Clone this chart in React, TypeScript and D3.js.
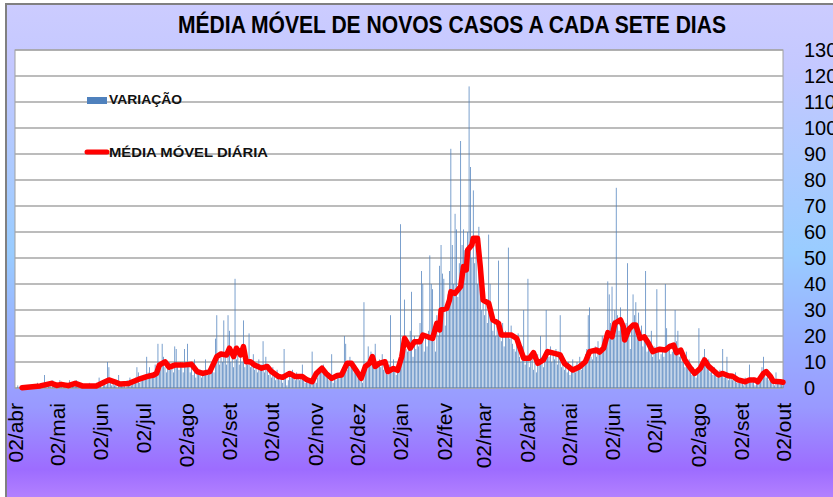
import React from 'react';
import * as d3 from 'd3';

const START = new Date(2020, 3, 2);
const END = new Date(2021, 9, 2);

const titleText = 'MÉDIA MÓVEL DE NOVOS CASOS A CADA SETE DIAS';
const legendBars = 'VARIAÇÃO';
const legendLine = 'MÉDIA MÓVEL DIÁRIA';

const tickLabels = [
  '02/abr', '02/mai', '02/jun', '02/jul', '02/ago', '02/set', '02/out', '02/nov', '02/dez',
  '02/jan', '02/fev', '02/mar', '02/abr', '02/mai', '02/jun', '02/jul', '02/ago', '02/set', '02/out',
];
const tickDates = [
  new Date(2020, 3, 2), new Date(2020, 4, 2), new Date(2020, 5, 2), new Date(2020, 6, 2),
  new Date(2020, 7, 2), new Date(2020, 8, 2), new Date(2020, 9, 2), new Date(2020, 10, 2),
  new Date(2020, 11, 2), new Date(2021, 0, 2), new Date(2021, 1, 2), new Date(2021, 2, 2),
  new Date(2021, 3, 2), new Date(2021, 4, 2), new Date(2021, 5, 2), new Date(2021, 6, 2),
  new Date(2021, 7, 2), new Date(2021, 8, 2), new Date(2021, 9, 2),
];

const yTicks = [0, 10, 20, 30, 40, 50, 60, 70, 80, 90, 100, 110, 120, 130];

// daily new cases, one value per day from 02/abr/2020
const dailyCases = [
  0, 0, 1, 0, 0, 0, 0,
  0, 1, 0, 0, 1, 0, 1,
  1, 0, 2, 1, 0, 1, 0,
  5, 1, 0, 2, 1, 0, 3,
  1, 2, 0, 1, 3, 1, 0,
  1, 0, 2, 1, 3, 0, 1,
  1, 2, 3, 1, 0, 2, 1,
  0, 1, 1, 0, 2, 1, 0,
  1, 0, 2, 1, 4, 1, 0,
  2, 3, 1, 10, 8, 2, 1,
  2, 1, 3, 0, 5, 2, 1,
  1, 2, 0, 3, 2, 4, 1,
  2, 3, 4, 8, 6, 2, 3,
  3, 5, 4, 12, 6, 8, 4,
  5, 6, 9, 7, 17, 8, 10,
  17, 12, 8, 6, 9, 10, 7,
  8, 6, 16, 15, 9, 7, 10,
  8, 6, 15, 10, 17, 9, 6,
  9, 5, 11, 4, 6, 5, 7,
  4, 6, 5, 11, 7, 5, 6,
  8, 10, 6, 19, 28, 12, 9,
  14, 10, 26, 12, 9, 28, 22,
  10, 12, 8, 42, 11, 14, 9,
  12, 10, 26, 8, 11, 9, 21,
  8, 10, 13, 7, 9, 6, 11,
  7, 9, 18, 6, 12, 8, 5,
  6, 4, 8, 5, 3, 7, 4,
  3, 4, 2, 15, 4, 1, 3,
  6, 4, 7, 5, 3, 6, 4,
  3, 5, 9, 4, 2, 4, 3,
  2, 3, 14, 5, 3, 2, 4,
  6, 8, 7, 9, 5, 6, 4,
  3, 5, 13, 2, 4, 3, 5,
  4, 6, 5, 8, 20, 17, 7,
  9, 12, 8, 10, 6, 7, 5,
  4, 3, 5, 2, 33, 6, 8,
  16, 9, 14, 12, 8, 17, 10,
  9, 11, 8, 13, 7, 10, 6,
  5, 9, 28, 6, 11, 7, 5,
  8, 10, 63, 12, 20, 34, 15,
  14, 18, 22, 37, 12, 20, 15,
  18, 16, 25, 45, 40, 14, 20,
  16, 22, 51, 40, 38, 18, 14,
  28, 20, 47, 55, 44, 42, 24,
  30, 36, 45, 92, 55, 40, 67,
  61, 35, 48, 95, 55, 61, 53,
  46, 60, 116, 85, 50, 76, 48,
  55, 40, 62, 38, 30, 35, 28,
  32, 25, 59, 40, 28, 22, 26,
  20, 24, 49, 22, 18, 25, 16,
  22, 20, 54, 19, 24, 17, 15,
  14, 18, 21, 12, 10, 16, 30,
  9, 12, 42, 8, 11, 14, 7,
  10, 6, 13, 9, 20, 12, 8,
  11, 30, 14, 12, 16, 10, 13,
  11, 15, 9, 14, 28, 8, 12,
  7, 9, 6, 10, 5, 8, 11,
  8, 6, 10, 9, 12, 7, 8,
  10, 13, 15, 28, 31, 12, 11,
  14, 16, 12, 18, 15, 13, 20,
  18, 15, 22, 41, 36, 25, 39,
  26, 30, 77, 28, 22, 31, 24,
  18, 20, 25, 48, 22, 15, 24,
  36, 28, 33, 20, 29, 18, 24,
  16, 20, 45, 14, 18, 15, 22,
  12, 16, 14, 38, 15, 11, 13,
  14, 12, 40, 23, 15, 17, 13,
  14, 16, 30, 18, 22, 12, 15,
  10, 12, 8, 14, 9, 11, 7,
  5, 8, 6, 4, 7, 23, 9,
  10, 12, 15, 9, 8, 11, 6,
  7, 5, 8, 6, 4, 5, 7,
  6, 15, 4, 5, 12, 3, 4,
  5, 3, 4, 6, 2, 4, 3,
  2, 3, 1, 4, 2, 3, 9,
  3, 2, 4, 1, 3, 2, 4,
  5, 8, 12, 6, 4, 7, 3,
  4, 2, 3, 1, 6, 2, 3,
  2, 3, 1,
];

// moving average, read at day offsets from 02/abr/2020
const maDays = [
  5, 18, 26, 30, 33, 38, 43, 48, 58, 62, 67, 71, 75, 81, 84, 88, 94, 99, 101, 103,
  107, 110, 114, 120, 126, 130, 134, 139, 144, 147, 151, 153, 156, 158, 161, 163, 165, 168, 171, 176,
  180, 183, 188, 191, 196, 200, 205, 208, 212, 215, 219, 222, 226, 230, 233, 237, 240, 244, 247, 250,
  253, 255, 257, 260, 264, 266, 270, 273, 276, 278, 282, 285, 289, 291, 295, 298, 301, 303, 304, 308,
  310, 311, 314, 318, 320, 322, 323, 326, 327, 330, 332, 334, 338, 341, 345, 347, 351, 354, 358, 360,
  363, 367, 370, 373, 377, 380, 385, 389, 392, 398, 403, 407, 410, 415, 417, 420, 423, 426, 428, 432,
  434, 435, 438, 441, 443, 446, 449, 452, 455, 458, 460, 464, 467, 470, 472, 475, 478, 482, 485, 489,
  492, 495, 498, 502, 505, 509, 512, 516, 521, 524, 528, 530, 534, 536, 539, 541, 546, 548,
];
const maValues = [
  0.1, 0.8, 1.8, 1.0, 1.4, 0.9, 1.8, 0.8, 0.8, 1.8, 3.1, 2.4, 1.5, 1.7, 2.4, 3.3, 4.4, 5.0, 5.6, 8.8,
  10.1, 8.0, 8.8, 8.8, 9.1, 6.3, 5.6, 6.3, 12.1, 13.1, 12.7, 15.3, 12.1, 15.3, 12.7, 15.9, 10.1, 10.1, 8.8, 7.6,
  8.3, 6.3, 4.4, 4.1, 5.6, 4.4, 4.4, 3.3, 2.4, 5.6, 7.6, 5.6, 3.7, 4.8, 5.0, 9.5, 9.5, 6.3, 3.7, 8.3,
  9.5, 12.1, 8.3, 9.5, 10.1, 6.3, 7.5, 6.8, 12.1, 19.1, 15.3, 17.8, 17.8, 20.4, 19.6, 19.1, 24.9, 22.3, 30.0, 30.6,
  33.8, 37.0, 36.4, 39.0, 46.7, 45.4, 53.1, 55.0, 57.6, 57.6, 46.7, 33.8, 32.6, 26.2, 24.9, 20.4, 20.4, 20.4, 19.1, 15.9,
  11.4, 11.4, 13.6, 9.5, 10.8, 14.0, 13.3, 12.7, 9.5, 6.9, 8.2, 10.1, 14.0, 14.6, 13.8, 15.3, 21.3, 19.7, 24.9, 26.2,
  23.6, 18.5, 22.6, 24.2, 24.2, 19.1, 19.7, 17.2, 14.0, 14.6, 14.9, 14.6, 15.9, 16.5, 13.6, 14.6, 10.8, 7.6, 5.6, 7.6,
  10.8, 8.3, 6.9, 5.0, 5.6, 4.7, 4.5, 3.1, 2.4, 3.1, 3.1, 2.4, 5.6, 6.3, 4.5, 2.6, 2.4, 2.2,
];

const W = 833;
const H = 497;
const PL = 15;
const PR = 783;
const PT = 50;
const PB = 388;

export default function App() {
  const x = d3.scaleTime().domain([START, END]).range([PL, PR]);
  const y = d3.scaleLinear().domain([0, 130]).range([PB, PT]);

  const bars = dailyCases.map((v, i) => ({ date: d3.timeDay.offset(START, i), v }));
  const ma = maDays.map((d, i) => ({ date: d3.timeDay.offset(START, d), v: maValues[i] }));
  const line = d3
    .line<{ date: Date; v: number }>()
    .x((d) => x(d.date))
    .y((d) => y(d.v));

  const barW = 0.75;

  return (
    <svg
      width={W}
      height={H}
      style={{ position: 'absolute', left: 0, top: 0, background: '#ffffff' }}
      fontFamily="'Liberation Sans', Arial, sans-serif"
    >
      <defs>
        <linearGradient id="bg" x1="0" y1="0" x2="0" y2="1">
          <stop offset="0%" stopColor="#ccccff" />
          <stop offset="12%" stopColor="#c4c8ff" />
          <stop offset="48%" stopColor="#99ccff" />
          <stop offset="78%" stopColor="#9999ff" />
          <stop offset="90%" stopColor="#9d6cff" />
          <stop offset="100%" stopColor="#c592ff" />
        </linearGradient>
      </defs>
      <rect x={6} y={4} width={W + 20} height={H + 20} fill="url(#bg)" stroke="#808080" strokeWidth={2} />

      <text
        x={452}
        y={33}
        textAnchor="middle"
        fontWeight="bold"
        fontSize={24}
        textLength={548}
        lengthAdjust="spacingAndGlyphs"
        fill="#000"
      >
        {titleText}
      </text>

      <rect x={PL} y={PT} width={PR - PL} height={PB - PT} fill="#ffffff" stroke="#a0a0a0" strokeWidth={1} />

      {yTicks.map((t) => (
        <line key={'g' + t} x1={PL} x2={PR} y1={y(t)} y2={y(t)} stroke="#a6a6a6" strokeWidth={1.5} />
      ))}

      <g fill="#4f81bd">
        {bars.map((b, i) => (
          <rect key={i} x={x(b.date) - barW / 2} y={y(b.v)} width={barW} height={PB - y(b.v)} />
        ))}
      </g>

      <path
        d={line(ma) || ''}
        fill="none"
        stroke="#ff0000"
        strokeWidth={5.5}
        strokeLinejoin="round"
        strokeLinecap="round"
      />

      {yTicks.map((t) => (
        <text key={'y' + t} x={804} y={y(t)} dy="0.35em" fontSize={20} fill="#000">
          {t}
        </text>
      ))}

      {tickDates.map((d, i) => (
        <text
          key={'x' + i}
          transform={`translate(${x(d) + 8},403) rotate(-90)`}
          textAnchor="end"
          fontSize={21}
          fill="#000"
        >
          {tickLabels[i]}
        </text>
      ))}

      <rect x={87} y={97} width={20} height={7} fill="#4f81bd" />
      <text x={109} y={104} fontSize={13} fontWeight="bold" textLength={73} lengthAdjust="spacingAndGlyphs" fill="#111">
        {legendBars}
      </text>
      <line x1={87} x2={107} y1={152} y2={152} stroke="#ff0000" strokeWidth={5} strokeLinecap="round" />
      <text x={109} y={157} fontSize={13} fontWeight="bold" textLength={159} lengthAdjust="spacingAndGlyphs" fill="#111">
        {legendLine}
      </text>
    </svg>
  );
}
